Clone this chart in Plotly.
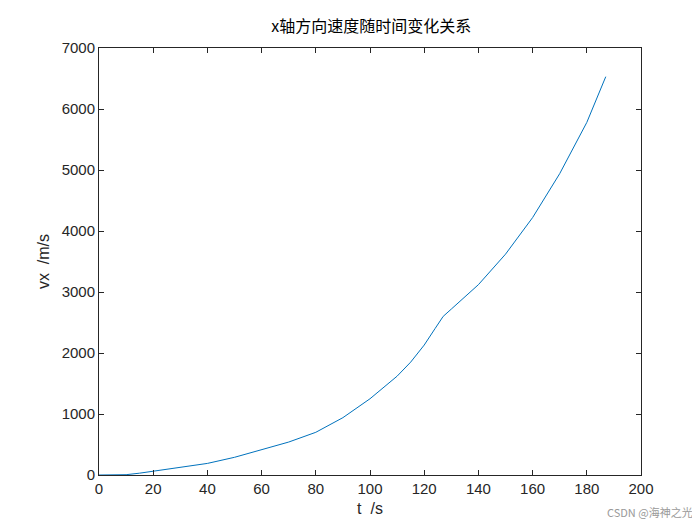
import plotly.graph_objects as go

t = [0, 5, 10, 15, 20, 30, 40, 50, 60, 70, 80, 90, 100, 110, 115, 120, 124, 127, 130, 140, 150, 160, 170, 180, 187]
vx = [0, 0, 5, 30, 60, 120, 190, 290, 410, 540, 700, 940, 1250, 1620, 1850, 2130, 2400, 2600, 2720, 3120, 3620, 4220, 4940, 5780, 6530]

fig = go.Figure(go.Scatter(x=t, y=vx, mode="lines", line=dict(color="#0072BD", width=1)))
ax = dict(showgrid=False, zeroline=False, showline=True, linecolor="#262626", linewidth=1, mirror="ticks",
          ticks="inside", ticklen=5, tickcolor="#262626", tickfont=dict(size=15, color="#262626"),
          automargin=False)
fig.update_layout(
    width=700, height=525, plot_bgcolor="white", paper_bgcolor="white",
    margin=dict(l=91, r=67, t=40, b=58, autoexpand=False), showlegend=False,
    font=dict(family="Liberation Sans, Arial", color="#262626"),
    title=dict(text="x轴方向速度随时间变化关系", x=0.519, xanchor="center", y=0.965, yanchor="middle",
               font=dict(family="Noto Sans CJK SC", size=16, color="#000")),
    xaxis=dict(ax, range=[0, 200], dtick=20, title=dict(text="t  /s", font=dict(size=16), standoff=6)),
    yaxis=dict(ax, range=[0, 7000], dtick=1000, title=dict(text="vx  /m/s", font=dict(size=16), standoff=8)),
)
fig.add_annotation(text="CSDN @海神之光", xref="paper", yref="paper", x=1.1, y=-0.11, xanchor="right",
                   showarrow=False, font=dict(family="Noto Sans CJK SC", size=11, color="#999"))
fig.write_html("out.html")
